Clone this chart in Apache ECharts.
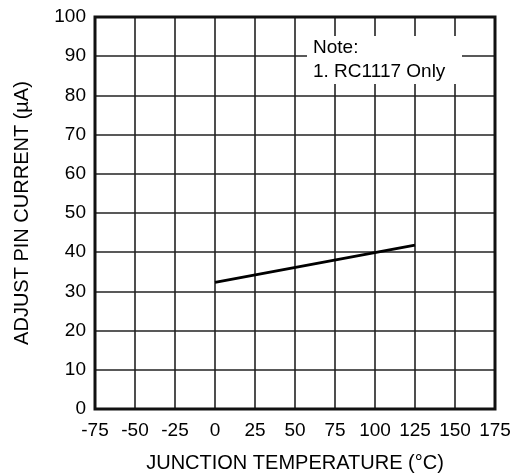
<!DOCTYPE html>
<html>
<head>
<meta charset="utf-8">
<script src="https://cdn.jsdelivr.net/npm/echarts@6/dist/echarts.min.js"></script>
<style>
  html, body { margin: 0; padding: 0; background: #fff; }
  #chart { width: 528px; height: 475px; }
</style>
</head>
<body>
<div id="chart"></div>
<script>
// data
var temps = [0, 125];
var current = [32.3, 41.8];
var xTicks = [-75, 175, 25];
var yTicks = [0, 100, 10];

var chart = echarts.init(document.getElementById('chart'));
var font = 'Liberation Sans, Arial, sans-serif';

var option = {
  animation: false,
  grid: { left: 95, top: 17, width: 400, height: 392, outerBoundsMode: 'none', containLabel: false },
  xAxis: {
    type: 'value',
    min: xTicks[0], max: xTicks[1], interval: xTicks[2],
    name: 'JUNCTION TEMPERATURE (°C)',
    nameLocation: 'middle', nameGap: 44,
    nameTextStyle: { fontFamily: font, fontSize: 20, color: '#000' },
    axisLine: { show: false },
    axisTick: { show: false },
    axisLabel: { fontFamily: font, fontSize: 19, color: '#000', margin: 12 },
    splitLine: { show: true, lineStyle: { color: '#222', width: 1.6 } }
  },
  yAxis: {
    type: 'value',
    min: yTicks[0], max: yTicks[1], interval: yTicks[2],
    name: 'ADJUST PIN CURRENT (µA)',
    nameLocation: 'middle', nameGap: 63,
    nameTextStyle: { fontFamily: font, fontSize: 20, color: '#000' },
    axisLine: { show: false },
    axisTick: { show: false },
    axisLabel: { fontFamily: font, fontSize: 19, color: '#000', margin: 9 },
    splitLine: { show: true, lineStyle: { color: '#222', width: 1.6 } }
  },
  graphic: [
    {
      type: 'rect', z: 10,
      shape: { x: 95, y: 17, width: 400, height: 392 },
      style: { fill: 'none', stroke: '#111', lineWidth: 3 }
    },
    {
      type: 'rect', z: 5,
      shape: { x: 307, y: 36, width: 155, height: 48 },
      style: { fill: '#fff' }
    },
    {
      type: 'text', z: 6, left: 313, top: 36,
      style: { text: 'Note:\n1. RC1117 Only', font: '19px ' + font, fill: '#000', lineHeight: 24 }
    }
  ],
  series: [{
    type: 'line',
    data: temps.map(function (t, i) { return [t, current[i]]; }),
    symbol: 'none',
    lineStyle: { color: '#000', width: 3 }
  }]
};
chart.setOption(option);
</script>
</body>
</html>
